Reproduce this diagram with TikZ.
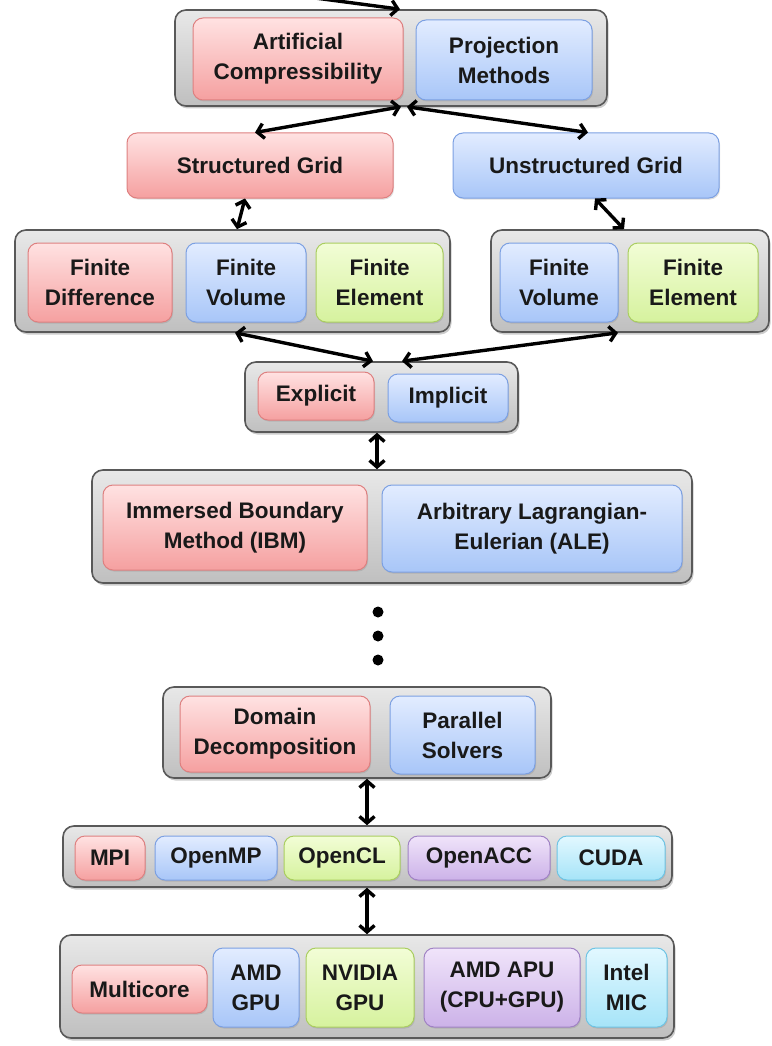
\documentclass[tikz,border=0pt]{standalone}
\usepackage{fontspec}
\setmainfont{Liberation Sans}
\usetikzlibrary{arrows.meta,shadows}

\tikzset{
  group/.style={draw=black!65, line width=1.6pt, rounded corners=11pt,
    top color=black!9, bottom color=black!25,
    drop shadow={shadow xshift=1.5pt, shadow yshift=-2.5pt, opacity=0.4}},
  item/.style={rounded corners=10pt, line width=1pt, align=center,
    font=\fontsize{22.5}{30}\selectfont\bfseries, text=black!90, inner sep=0pt,
    drop shadow={shadow xshift=1pt, shadow yshift=-1.5pt, opacity=0.25}},
  redbox/.style={item, draw={rgb,255:red,222;green,128;blue,128},
    top color={rgb,255:red,255;green,226;blue,226}, bottom color={rgb,255:red,245;green,160;blue,160}},
  bluebox/.style={item, draw={rgb,255:red,124;green,160;blue,226},
    top color={rgb,255:red,226;green,236;blue,255}, bottom color={rgb,255:red,168;green,198;blue,248}},
  greenbox/.style={item, draw={rgb,255:red,170;green,206;blue,96},
    top color={rgb,255:red,242;green,253;blue,214}, bottom color={rgb,255:red,214;green,242;blue,158}},
  purplebox/.style={item, draw={rgb,255:red,160;green,130;blue,196},
    top color={rgb,255:red,240;green,228;blue,250}, bottom color={rgb,255:red,204;green,178;blue,232}},
  cyanbox/.style={item, draw={rgb,255:red,110;green,196;blue,228},
    top color={rgb,255:red,226;green,248;blue,255}, bottom color={rgb,255:red,166;green,228;blue,248}},
  barb/.tip={Straight Barb[length=6.5pt,width=15pt]},
  link/.style={line width=3.4pt, black, barb-barb},
  sz/.style n args={2}{minimum width=#1pt, minimum height=#2pt},
}

\begin{document}
\begin{tikzpicture}[x=1pt, y=-1pt]
\useasboundingbox (0,0) rectangle (771,1046);

% --- formulation ---
\node[group, sz={432}{96}] (g1) at (391,58) {};
\node[redbox, sz={210}{82}] (ac) at (298,59) {Artificial\\Compressibility};
\node[bluebox, sz={176}{80}] (pm) at (504,60) {Projection\\Methods};

% --- grids ---
\node[redbox, sz={266}{65}] (sg) at (260,165.5) {Structured Grid};
\node[bluebox, sz={266}{65}] (ug) at (586,165.5) {Unstructured Grid};

% --- discretisation ---
\node[group, sz={435}{102}] (g2l) at (232.5,281) {};
\node[redbox, sz={144}{79}] (fd) at (100,282.5) {Finite\\Difference};
\node[bluebox, sz={120}{79}] (fv) at (246,282.5) {Finite\\Volume};
\node[greenbox, sz={127}{79}] (fe) at (379.5,282.5) {Finite\\Element};

\node[group, sz={278}{102}] (g2r) at (630,281) {};
\node[bluebox, sz={118}{79}] (fv2) at (559,282.5) {Finite\\Volume};
\node[greenbox, sz={130}{79}] (fe2) at (693,282.5) {Finite\\Element};

% --- time integration ---
\node[group, sz={273}{70}] (g3) at (381.5,397) {};
\node[redbox, sz={116}{48}] (ex) at (316,396) {Explicit};
\node[bluebox, sz={120}{48}] (im) at (448,398) {Implicit};

% --- moving boundaries ---
\node[group, sz={600}{113}] (g4) at (392,526.5) {};
\node[redbox, sz={264}{85}] (ibm) at (235,527.5) {Immersed Boundary\\Method (IBM)};
\node[bluebox, sz={300}{87}] (ale) at (532,528.5) {Arbitrary Lagrangian-\\Eulerian (ALE)};

% --- continuation dots ---
\foreach \yy in {612,636,660} \fill (378,\yy) circle (5.5pt);

% --- parallelisation ---
\node[group, sz={388}{91}] (g5) at (357,732.5) {};
\node[redbox, sz={190}{76}] (dd) at (275,734) {Domain\\Decomposition};
\node[bluebox, sz={145}{78}] (ps) at (462.5,735) {Parallel\\Solvers};

% --- programming models ---
\node[group, sz={609}{61}] (g6) at (367.5,856.5) {};
\node[redbox, sz={70}{44}] (mpi) at (110,858) {MPI};
\node[bluebox, sz={122}{44}] (omp) at (216,858) {OpenMP};
\node[greenbox, sz={116}{44}] (ocl) at (342,858) {OpenCL};
\node[purplebox, sz={142}{44}] (oacc) at (479,858) {OpenACC};
\node[cyanbox, sz={108}{44}] (cuda) at (611,858) {CUDA};

% --- hardware ---
\node[group, sz={614}{103}] (g7) at (367,986.5) {};
\node[redbox, sz={135}{48}] (mc) at (139.5,989) {Multicore};
\node[bluebox, sz={86}{79}] (agpu) at (256,987.5) {AMD\\GPU};
\node[greenbox, sz={108}{79}] (ngpu) at (360,987.5) {NVIDIA\\GPU};
\node[purplebox, sz={156}{79}] (apu) at (502,987.5) {AMD APU\\(CPU+GPU)};
\node[cyanbox, sz={81}{79}] (mic) at (626.5,987.5) {Intel\\MIC};

% --- connectors ---
\coordinate (in) at (300,-4);
\draw[line width=3.4pt, -barb] (in) -- ([xshift=9pt]g1.north);
\draw[link] ([xshift=10pt]g1.south) -- ([xshift=-5pt]sg.north);
\draw[link] ([xshift=16pt]g1.south) -- ([xshift=2pt]ug.north);
\draw[link] ([xshift=-15pt]sg.south) -- ([xshift=4.5pt]g2l.north);
\draw[link] ([xshift=9pt]ug.south) -- ([xshift=-6pt]g2r.north);
\draw[link] ([xshift=2.5pt]g2l.south) -- ([xshift=-8.5pt]g3.north);
\draw[link] ([xshift=-12pt]g2r.south) -- ([xshift=20.5pt]g3.north);
\draw[link] ([xshift=-4.5pt]g3.south) -- ([xshift=-15pt]g4.north);
\draw[link] ([xshift=10pt]g5.south) -- ([xshift=-0.5pt]g6.north);
\draw[link] ([xshift=-0.5pt]g6.south) -- (g7.north);
\end{tikzpicture}
\end{document}
